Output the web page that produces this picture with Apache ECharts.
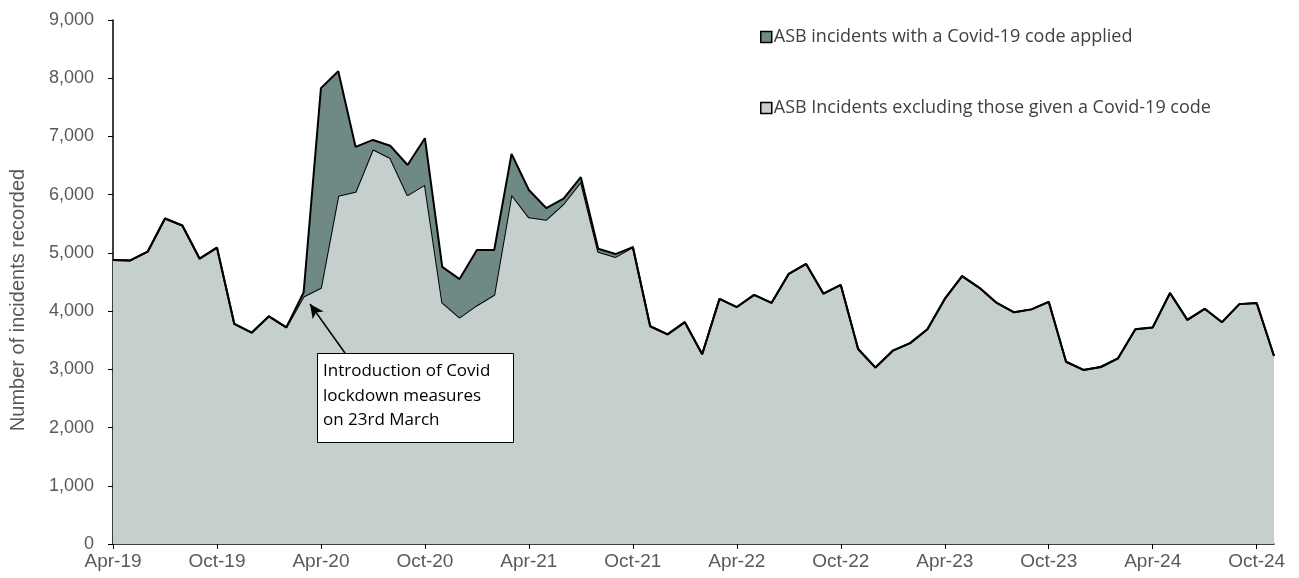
<!DOCTYPE html>
<html>
<head>
<meta charset="utf-8">
<script src="https://cdn.jsdelivr.net/npm/echarts@6/dist/echarts.min.js"></script>
<style>
  html, body { margin: 0; padding: 0; background: #fff; }
  #chart { width: 1299px; height: 578px; }
</style>
</head>
<body>
<div id="chart"></div>
<script>
// month labels Apr-19 .. Nov-24
const months = [
  'Apr-19','May-19','Jun-19','Jul-19','Aug-19','Sep-19','Oct-19','Nov-19','Dec-19','Jan-20','Feb-20','Mar-20',
  'Apr-20','May-20','Jun-20','Jul-20','Aug-20','Sep-20','Oct-20','Nov-20','Dec-20','Jan-21','Feb-21','Mar-21',
  'Apr-21','May-21','Jun-21','Jul-21','Aug-21','Sep-21','Oct-21','Nov-21','Dec-21','Jan-22','Feb-22','Mar-22',
  'Apr-22','May-22','Jun-22','Jul-22','Aug-22','Sep-22','Oct-22','Nov-22','Dec-22','Jan-23','Feb-23','Mar-23',
  'Apr-23','May-23','Jun-23','Jul-23','Aug-23','Sep-23','Oct-23','Nov-23','Dec-23','Jan-24','Feb-24','Mar-24',
  'Apr-24','May-24','Jun-24','Jul-24','Aug-24','Sep-24','Oct-24','Nov-24'
]

// ASB incidents excluding those given a Covid-19 code
const nonCovid = [
  4880, 4870, 5020, 5590, 5470, 4900, 5090, 3780, 3630, 3910, 3720, 4250,
  4400, 5980, 6050, 6780, 6630, 5990, 6170, 4150, 3890, 4100, 4280, 6000,
  5610, 5570, 5840, 6220, 5020, 4930, 5100, 3740, 3600, 3810, 3260, 4210,
  4070, 4280, 4140, 4640, 4810, 4300, 4450, 3350, 3030, 3320, 3450, 3690,
  4210, 4600, 4400, 4140, 3980, 4030, 4160, 3130, 2990, 3040, 3190, 3690,
  3720, 4310, 3850, 4040, 3810, 4120, 4140, 3230
]

// ASB incidents with a Covid-19 code applied
const covid = [
  0, 0, 0, 0, 0, 0, 0, 0, 0, 0, 0, 70,
  3430, 2140, 770, 160, 210, 520, 800, 610, 660, 950, 770, 700,
  470, 200, 90, 80, 50, 50, 0, 0, 0, 0, 0, 0,
  0, 0, 0, 0, 0, 0, 0, 0, 0, 0, 0, 0,
  0, 0, 0, 0, 0, 0, 0, 0, 0, 0, 0, 0,
  0, 0, 0, 0, 0, 0, 0, 0
]

const noteLines = ['Introduction of Covid', 'lockdown measures', 'on 23rd March']

const myChart = echarts.init(document.getElementById('chart'))

myChart.setOption({
  animation: false,
  grid: {
    left: 112,
    right: 25,
    top: 20,
    bottom: 34
  },
  legend: {
    orient: 'vertical',
    left: 755,
    top: 23,
    itemWidth: 11,
    itemHeight: 11,
    itemGap: 53,
    icon: 'rect',
    textStyle: {
      fontFamily: 'Open Sans',
      fontSize: 18,
      color: '#404040',
      padding: [0, 0, 0, -3]
    },
    data: [
      { name: 'ASB incidents with a Covid-19 code applied', itemStyle: { borderColor: '#000', borderWidth: 1.5 } },
      { name: 'ASB Incidents excluding those given a Covid-19 code', itemStyle: { borderColor: '#000', borderWidth: 1.5 } }
    ]
  },
  xAxis: {
    type: 'category',
    data: months,
    boundaryGap: false,
    axisLine: { lineStyle: { color: '#000', width: 1.5 } },
    axisTick: { interval: 5, length: 5, lineStyle: { color: '#000' } },
    axisLabel: {
      interval: 5,
      color: '#595959',
      fontFamily: 'Liberation Sans',
      fontSize: 19,
      margin: 8
    }
  },
  yAxis: {
    type: 'value',
    min: 0,
    max: 9000,
    interval: 1000,
    name: 'Number of incidents recorded',
    nameLocation: 'middle',
    nameGap: 85,
    nameTextStyle: {
      color: '#595959',
      fontFamily: 'Liberation Sans',
      fontSize: 20,
      padding: [0, 36, 0, 0]
    },
    axisLine: { show: true, lineStyle: { color: '#000', width: 1.5 } },
    axisTick: { show: true, length: 5, lineStyle: { color: '#000' } },
    splitLine: { show: false },
    axisLabel: {
      color: '#595959',
      fontFamily: 'Liberation Sans',
      fontSize: 18,
      margin: 19,
      formatter: v => v.toLocaleString('en-GB')
    }
  },
  series: [
    {
      type: 'line',
      name: 'ASB Incidents excluding those given a Covid-19 code',
      stack: 'total',
      data: nonCovid,
      symbol: 'none',
      color: '#C5CFCD',
      lineStyle: { color: '#000', width: 2 },
      areaStyle: { color: '#C5CFCD', opacity: 1 },
      z: 2,
      markLine: {
        silent: true,
        symbol: ['none', 'arrow'],
        symbolSize: [10, 14],
        label: { show: false },
        lineStyle: { color: '#000', width: 1.5, type: 'solid' },
        data: [[{ x: 345, y: 353 }, { x: 310, y: 304 }]]
      }
    },
    {
      type: 'line',
      name: 'ASB incidents with a Covid-19 code applied',
      stack: 'total',
      data: covid,
      symbol: 'none',
      color: '#6F8A85',
      lineStyle: { color: '#000', width: 2 },
      areaStyle: { color: '#6F8A85', opacity: 1 },
      z: 3
    }
  ],
  graphic: [
    {
      type: 'rect',
      left: 317,
      top: 353,
      shape: { width: 196, height: 89 },
      style: { fill: '#fff', stroke: '#000', lineWidth: 1 },
      z: 10
    },
    {
      type: 'text',
      left: 323,
      top: 359,
      style: {
        text: noteLines.join('\n'),
        fontFamily: 'Open Sans',
        fontSize: 17,
        lineHeight: 24.5,
        fill: '#000'
      },
      z: 11
    }
  ]
})

window.addEventListener('resize', () => {
  myChart.resize()
})
</script>
</body>
</html>
